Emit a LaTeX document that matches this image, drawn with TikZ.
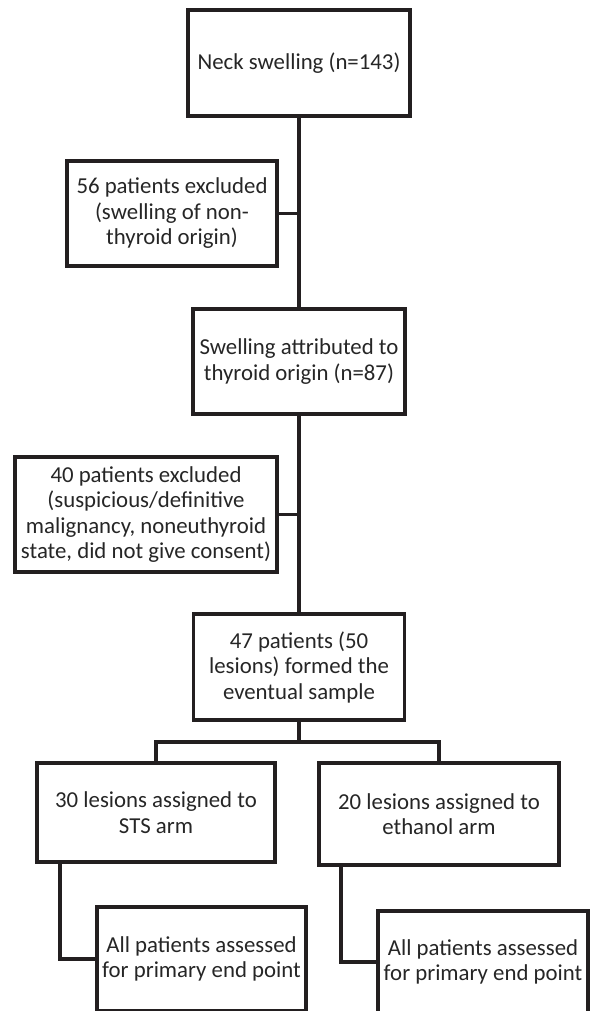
\documentclass[tikz,border=0pt]{standalone}
\usepackage{fontspec}
\setmainfont{Carlito}
\usepackage{tikz}
\usepackage{xcolor}
\usetikzlibrary{positioning, calc}
\definecolor{flowInk}{RGB}{35,31,32}
\definecolor{flowText}{RGB}{38,38,38}

\begin{document}
\begin{tikzpicture}[x=1pt, y=-1pt,
      stage/.style={draw=flowInk, line width=3.8pt, fill=white, align=center, text=flowText,
      inner sep=0pt, font=\fontsize{22.8}{25.5}\selectfont},
      link/.style={draw=flowInk, line width=3.8pt}
    ]
    \useasboundingbox (0,0) rectangle (591,1011);

    \node[stage, minimum width=222pt, minimum height=106pt] (neck) at (299,63) {Neck swelling (n=143)};
    \node[stage, minimum width=210pt, minimum height=105pt] (exclA) at (172,213.5) {56 patients excluded\\(swelling of non-\\thyroid origin)};
    \node[stage, minimum width=212pt, minimum height=105pt] (thyroid) at (299,361.5) {Swelling attributed to\\thyroid origin (n=87)};
    \node[stage, minimum width=262pt, minimum height=115pt] (exclB) at (146,514.5) {40 patients excluded\\(suspicious/definitive\\malignancy, noneuthyroid\\state, did not give consent)};
    \node[stage, minimum width=211pt, minimum height=106pt] (sample) at (299,667) {47 patients (50\\lesions) formed the\\eventual sample};

    \node[stage, minimum width=238pt, minimum height=99pt] (sts) at (156,812.5) {30 lesions assigned to\\STS arm};
    \node[stage, minimum width=240pt, minimum height=102pt] (ethanol) at (439,814) {20 lesions assigned to\\ethanol arm};
    \node[stage, minimum width=209pt, minimum height=104pt] (endSts) at (201.5,959) {All patients assessed\\for primary end point};
    \node[stage, minimum width=210pt, minimum height=102pt] (endEth) at (483,962) {All patients assessed\\for primary end point};

    \coordinate (split) at (299,742);

    \draw[link] (neck) -- (thyroid);
    \draw[link] (exclA) -- (exclA -| neck);
    \draw[link] (thyroid) -- (sample);
    \draw[link] (exclB) -- (exclB -| thyroid);
    \draw[link] (sample) -- (split);
    \draw[link] (sts.north) |- (split) -| (ethanol.north);
    \draw[link] ([xshift=25pt]sts.south west) |- (endSts.west);
    \draw[link] ([xshift=24pt]ethanol.south west) |- (endEth.west);
  \end{tikzpicture}
\end{document}
